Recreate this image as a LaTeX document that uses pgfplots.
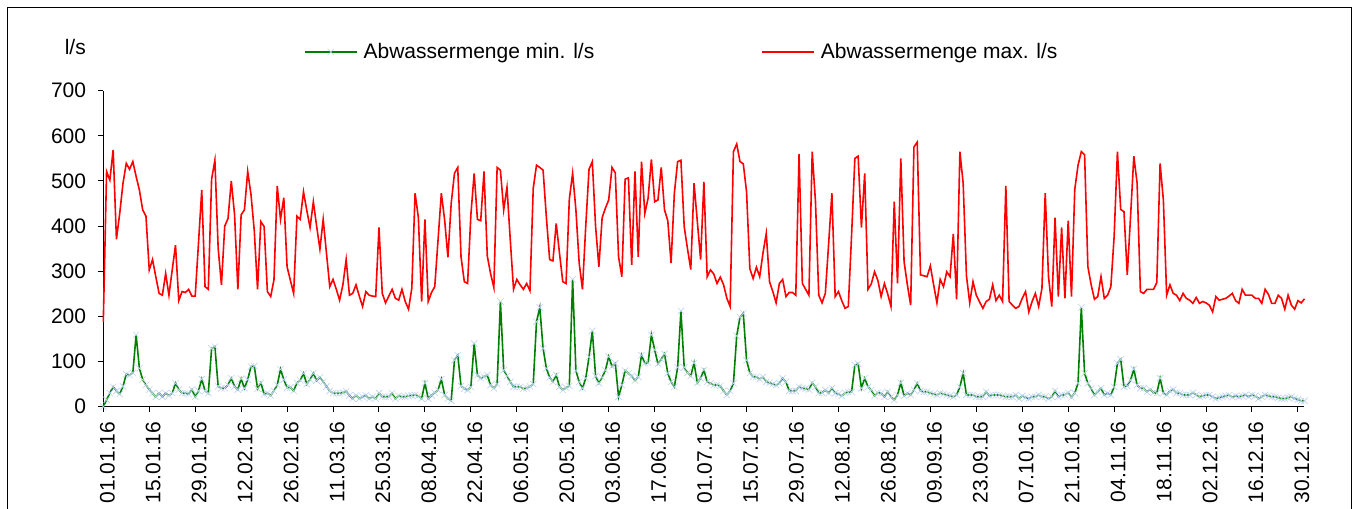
\documentclass[border=0pt]{standalone}
\usepackage{pgfplots}
\pgfplotsset{compat=1.18}
\usepackage{pgfplotstable}
\usepackage{fontspec}
\setmainfont{Liberation Sans}
\definecolor{mingreen}{RGB}{0,128,0}
\definecolor{minmark}{RGB}{190,210,240}
\newcommand\chartfont{\fontsize{21bp}{25bp}\selectfont}
\pgfplotstableread{
day min max
0 0 188
1 15 521
2 30 502
3 44 569
4 35 371
5 28 428
6 45 495
7 72 539
8 70 526
9 75 543
10 159 510
11 85 480
12 60 436
13 48 422
14 38 303
15 30 326
16 22 288
17 30 251
18 22 247
19 30 295
20 25 247
21 30 303
22 52 358
23 38 235
24 30 255
25 30 253
26 28 260
27 38 245
28 22 245
29 35 362
30 61 480
31 35 266
32 30 260
33 129 504
34 133 546
35 45 351
36 41 270
37 41 400
38 48 417
39 63 500
40 45 425
41 38 260
42 62 425
43 41 436
44 60 521
45 89 470
46 90 390
47 40 260
48 53 410
49 28 399
50 30 255
51 25 244
52 35 281
53 48 489
54 83 415
55 60 463
56 42 310
57 43 280
58 35 251
59 53 422
60 58 415
61 74 476
62 50 435
63 60 397
64 74 454
65 58 400
66 65 349
67 55 415
68 45 340
69 35 266
70 30 282
71 30 260
72 30 236
73 31 270
74 34 326
75 25 247
76 18 251
77 25 270
78 18 245
79 22 222
80 25 255
81 18 247
82 22 245
83 18 244
84 30 397
85 22 251
86 22 230
87 22 245
88 30 260
89 18 240
90 24 236
91 22 260
92 22 233
93 24 216
94 25 262
95 26 473
96 24 419
97 18 233
98 52 415
99 18 233
100 25 253
101 31 266
102 37 370
103 61 473
104 26 414
105 18 331
106 13 450
107 103 517
108 114 530
109 46 332
110 40 277
111 37 273
112 44 425
113 140 517
114 70 415
115 63 412
116 66 521
117 70 334
118 48 295
119 41 264
120 50 530
121 233 524
122 81 436
123 68 486
124 55 370
125 44 260
126 44 282
127 44 270
128 40 260
129 41 273
130 45 257
131 50 484
132 188 535
133 220 530
134 129 524
135 85 420
136 65 326
137 55 323
138 70 406
139 44 340
140 37 277
141 42 273
142 46 460
143 282 517
144 80 436
145 55 318
146 41 260
147 63 400
148 110 526
149 168 543
150 68 399
151 52 310
152 65 419
153 81 440
154 111 458
155 89 530
156 96 518
157 22 332
158 48 288
159 80 504
160 74 507
161 68 314
162 58 521
163 66 332
164 114 543
165 96 428
166 97 462
167 159 548
168 126 454
169 95 458
170 105 530
171 117 436
172 74 412
173 55 318
174 44 473
175 87 543
176 212 546
177 87 399
178 75 350
179 68 304
180 97 495
181 53 410
182 63 326
183 81 498
184 55 288
185 52 303
186 48 294
187 48 273
188 46 287
189 35 270
190 26 240
191 35 222
192 52 565
193 157 582
194 198 543
195 207 538
196 103 476
197 75 306
198 66 284
199 66 309
200 61 288
201 66 340
202 55 384
203 53 277
204 50 255
205 48 230
206 52 273
207 63 282
208 55 244
209 35 253
210 35 253
211 35 247
212 44 560
213 41 273
214 40 260
215 38 247
216 53 565
217 44 454
218 30 247
219 31 230
220 37 251
221 30 360
222 41 473
223 30 244
224 28 255
225 24 235
226 31 218
227 32 222
228 33 380
229 92 550
230 95 555
231 41 397
232 63 517
233 44 260
234 37 272
235 24 299
236 31 280
237 30 244
238 22 273
239 33 250
240 22 222
241 15 454
242 26 273
243 53 550
244 24 321
245 30 270
246 26 225
247 37 575
248 52 586
249 35 292
250 33 290
251 33 288
252 30 312
253 28 270
254 26 230
255 30 282
256 28 266
257 26 299
258 24 288
259 22 383
260 26 238
261 44 565
262 74 495
263 26 290
264 26 230
265 26 277
266 22 247
267 22 232
268 22 218
269 33 233
270 24 238
271 26 270
272 26 235
273 26 247
274 24 233
275 22 489
276 22 233
277 22 225
278 26 218
279 18 222
280 24 240
281 20 255
282 18 210
283 22 233
284 22 251
285 26 222
286 22 262
287 22 473
288 18 288
289 22 222
290 35 419
291 22 244
292 26 397
293 26 240
294 31 412
295 21 244
296 30 481
297 52 535
298 220 565
299 74 558
300 52 310
301 40 270
302 26 238
303 33 244
304 41 288
305 26 240
306 30 247
307 26 266
308 44 377
309 96 565
310 105 437
311 44 432
312 46 292
313 59 421
314 83 555
315 48 495
316 41 255
317 41 251
318 33 260
319 38 260
320 31 260
321 30 275
322 63 539
323 30 458
324 26 247
325 35 270
326 38 251
327 30 247
328 30 235
329 26 251
330 26 240
331 26 236
332 31 229
333 26 242
334 22 229
335 24 233
336 26 230
337 26 225
338 22 210
339 18 244
340 20 236
341 22 238
342 24 240
343 26 245
344 21 251
345 24 235
346 22 229
347 24 260
348 26 247
349 22 247
350 26 247
351 24 240
352 18 240
353 22 229
354 26 260
355 24 249
356 22 229
357 22 229
358 20 247
359 18 240
360 18 216
361 20 247
362 22 225
363 18 216
364 16 235
365 13 230
366 13 239
}\datatable

\begin{document}
\begin{tikzpicture}[font=\chartfont]
\path[use as bounding box] (0,0) rectangle (1359bp,509bp);
\draw[line width=1bp, black] (7.5bp,0) -- (7.5bp,501bp) -- (1351.5bp,501bp) -- (1351.5bp,0);
\begin{axis}[
  at={(103.3bp,102.3bp)}, anchor=south west,
  scale only axis, width=1201.2bp, height=316bp,
  xmin=0, xmax=366, ymin=0, ymax=700,
  axis x line=bottom, axis y line=left,
  axis line style={-, line width=1.2bp, black},
  every outer x axis line/.append style={-},
  every outer y axis line/.append style={-},
  xtick={0,14,...,364},
  xticklabels={01.01.16,15.01.16,29.01.16,12.02.16,26.02.16,11.03.16,25.03.16,08.04.16,22.04.16,06.05.16,20.05.16,03.06.16,17.06.16,01.07.16,15.07.16,29.07.16,12.08.16,26.08.16,09.09.16,23.09.16,07.10.16,21.10.16,04.11.16,18.11.16,02.12.16,16.12.16,30.12.16},
  ytick={0,100,...,700},
  tick align=outside, major tick length=5bp,
  tick style={line width=1bp, black},
  /pgf/number format/assume math mode=true,
  tick label style={font=\chartfont},
  xticklabel style={xshift=4bp, yshift=-10bp, rotate=90, anchor=east, inner sep=0pt},
  yticklabel style={anchor=east, inner sep=0pt, xshift=-12bp},
  ylabel={l/s},
  every axis y label/.style={at={(rel axis cs:0,1)}, anchor=east, inner sep=0pt, xshift=-17.3bp, yshift=43.7bp, font=\chartfont},
  legend columns=2,
  legend style={draw=none, fill=none, font=\chartfont, inner sep=0pt, outer sep=0pt,
    at={(axis description cs:0.1671,1.1225)}, anchor=west,
    nodes={inner sep=0pt},
    /tikz/every odd column/.append style={column sep=6bp},
    /tikz/every even column/.append style={column sep=167bp}},
  legend image code/.code={\draw[mark repeat=2,mark phase=2,#1] plot coordinates {(0bp,0bp)(26bp,0bp)(52bp,0bp)};},
  clip=false,
]
\addplot[mingreen, line width=1.6bp, mark=x, mark size=4.5bp, mark options={minmark, line width=0.6bp, solid}] table[x=day, y=min] {\datatable};
\addlegendentry{Abwassermenge min. l/s}
\addplot[red, line width=1.6bp, no marks] table[x=day, y=max] {\datatable};
\addlegendentry{Abwassermenge max. l/s}
\end{axis}
\end{tikzpicture}
\end{document}
